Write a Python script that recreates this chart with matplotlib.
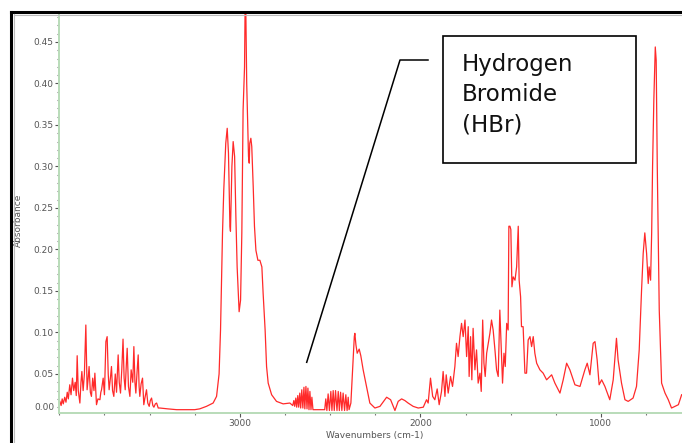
import matplotlib.pyplot as plt
from matplotlib.lines import Line2D
from matplotlib.patches import Rectangle
from matplotlib.ticker import MultipleLocator

# IR spectrum (wavenumber cm-1, absorbance)
wavenumbers = [
    3997, 3990, 3984, 3978, 3970, 3963, 3956, 3950, 3942, 3935, 3927, 3920, 3912, 3906,
    3901, 3895, 3886, 3880, 3875, 3868, 3861, 3853, 3846, 3840, 3835, 3828, 3822, 3815,
    3808, 3803, 3794, 3786, 3775, 3770, 3766, 3757, 3750, 3742, 3735, 3729, 3724, 3717,
    3711, 3705, 3698, 3690, 3683, 3674, 3668, 3661, 3654, 3647, 3641, 3635, 3629, 3624,
    3617, 3609, 3602, 3593, 3587, 3581, 3576, 3570, 3563, 3558, 3554, 3547, 3539, 3532,
    3525, 3517, 3510, 3502, 3496, 3489, 3482, 3476, 3468, 3461, 3452, 3443,
    3400, 3350, 3300, 3250, 3222, 3185, 3148, 3129, 3115, 3107, 3096, 3089, 3078, 3070,
    3063, 3055, 3052, 3044, 3037, 3029, 3022, 3015, 3004, 2996, 2989, 2982, 2974, 2971,
    2967, 2962, 2952, 2948, 2945, 2939, 2934, 2926, 2919, 2911, 2900, 2889, 2878, 2871,
    2860, 2852, 2843, 2824, 2797, 2760, 2723,
    2712, 2707, 2701, 2696, 2690, 2685, 2679, 2674, 2668, 2663, 2657, 2651, 2645, 2640,
    2634, 2628, 2623, 2617, 2612, 2606, 2601, 2595, 2570, 2530,
    2524, 2518, 2511, 2504, 2496, 2490, 2483, 2477, 2470, 2462, 2455, 2449, 2442, 2435,
    2428, 2420, 2413, 2406, 2400, 2395,
    2385, 2374, 2366, 2363, 2357, 2350, 2339, 2330, 2317, 2302, 2280, 2252, 2224, 2187,
    2165, 2141, 2123, 2104, 2086, 2068, 2040, 2012, 1984, 1966, 1957, 1944, 1932, 1920,
    1907, 1896, 1883, 1874, 1864, 1857, 1846, 1833, 1822, 1809, 1800, 1791, 1781, 1772,
    1763, 1753, 1744, 1735, 1730, 1722, 1715, 1708, 1698, 1689, 1680, 1670, 1663, 1655,
    1648, 1641, 1633, 1624, 1615, 1606, 1597, 1587, 1578, 1569, 1560, 1552, 1545, 1537,
    1530, 1522, 1514, 1510, 1504, 1499, 1493, 1486, 1476, 1467, 1458, 1453, 1445, 1440,
    1431, 1421, 1412, 1403, 1393, 1384, 1375, 1366, 1356, 1338, 1320, 1301, 1273, 1255,
    1227, 1209, 1190, 1172, 1144, 1116, 1089, 1076, 1061, 1043, 1033, 1021, 1010, 996,
    978, 951, 932, 914, 905, 886, 867, 849, 822, 803, 788, 775, 766, 757,
    747, 738, 733, 725, 719, 714, 707, 699, 694, 688, 680, 677, 673, 664,
    645, 627, 609, 590, 571, 553,
]
absorbance = [
    0.017, 0.012, 0.020, 0.014, 0.022, 0.016, 0.028, 0.020, 0.037, 0.025, 0.045, 0.030, 0.040, 0.024,
    0.072, 0.030, 0.015, 0.040, 0.053, 0.030, 0.050, 0.109, 0.031, 0.045, 0.059, 0.028, 0.023, 0.045,
    0.030, 0.051, 0.013, 0.020, 0.019, 0.028, 0.031, 0.045, 0.025, 0.089, 0.095, 0.050, 0.031, 0.045,
    0.059, 0.030, 0.023, 0.050, 0.028, 0.073, 0.040, 0.027, 0.055, 0.092, 0.045, 0.031, 0.060, 0.081,
    0.035, 0.023, 0.055, 0.040, 0.083, 0.040, 0.027, 0.050, 0.073, 0.035, 0.023, 0.038, 0.045, 0.013,
    0.022, 0.031, 0.015, 0.011, 0.018, 0.021, 0.012, 0.010, 0.014, 0.015, 0.009, 0.009,
    0.008, 0.007, 0.007, 0.007, 0.008, 0.011, 0.015, 0.023, 0.050, 0.103, 0.220, 0.272, 0.328, 0.346,
    0.316, 0.228, 0.222, 0.300, 0.330, 0.312, 0.240, 0.179, 0.125, 0.139, 0.220, 0.368, 0.420, 0.490,
    0.490, 0.400, 0.312, 0.304, 0.328, 0.334, 0.324, 0.276, 0.228, 0.199, 0.187, 0.187, 0.179, 0.147,
    0.103, 0.059, 0.039, 0.025, 0.017, 0.014, 0.015,
    0.013, 0.012, 0.018, 0.011, 0.021, 0.010, 0.024, 0.010, 0.027, 0.009, 0.031, 0.009, 0.034, 0.008,
    0.035, 0.008, 0.033, 0.007, 0.029, 0.007, 0.022, 0.007, 0.007, 0.007,
    0.020, 0.006, 0.026, 0.006, 0.029, 0.006, 0.030, 0.006, 0.030, 0.006, 0.029, 0.006, 0.028, 0.006,
    0.027, 0.006, 0.025, 0.006, 0.022, 0.007,
    0.015, 0.060, 0.095, 0.099, 0.085, 0.075, 0.080, 0.072, 0.055, 0.039, 0.015, 0.009, 0.011, 0.022,
    0.019, 0.006, 0.017, 0.020, 0.018, 0.015, 0.011, 0.009, 0.010, 0.019, 0.015, 0.045, 0.023, 0.019,
    0.032, 0.013, 0.029, 0.053, 0.023, 0.049, 0.027, 0.047, 0.035, 0.059, 0.087, 0.071, 0.095, 0.111,
    0.095, 0.115, 0.071, 0.107, 0.047, 0.095, 0.043, 0.105, 0.055, 0.079, 0.039, 0.051, 0.029, 0.115,
    0.063, 0.047, 0.075, 0.087, 0.099, 0.115, 0.103, 0.079, 0.055, 0.047, 0.127, 0.079, 0.039, 0.075,
    0.059, 0.111, 0.103, 0.228, 0.228, 0.224, 0.155, 0.167, 0.163, 0.179, 0.228, 0.163, 0.143, 0.107,
    0.107, 0.051, 0.051, 0.091, 0.095, 0.083, 0.095, 0.075, 0.063, 0.055, 0.051, 0.043, 0.049, 0.039,
    0.027, 0.043, 0.063, 0.055, 0.037, 0.035, 0.055, 0.063, 0.049, 0.087, 0.089, 0.067, 0.037, 0.043,
    0.035, 0.019, 0.043, 0.093, 0.067, 0.039, 0.019, 0.017, 0.021, 0.035, 0.079, 0.151, 0.195, 0.220,
    0.195, 0.159, 0.179, 0.163, 0.220, 0.300, 0.380, 0.444, 0.428, 0.300, 0.175, 0.127, 0.099, 0.039,
    0.027, 0.019, 0.009, 0.011, 0.013, 0.025,
]

y_ticks = [0.05, 0.10, 0.15, 0.20, 0.25, 0.30, 0.35, 0.40, 0.45]
x_ticks = [3000, 2000, 1000]

W, H = 682, 443
fig = plt.figure(figsize=(W / 100, H / 100), dpi=100)


def fx(px):
    return px / W


def fy(py):
    return 1 - py / H


ax = fig.add_axes([fx(59.3), fy(413), fx(682 - 59.3), (413 - 14) / H])
ax.plot(wavenumbers, absorbance, color='#ff2a2a', lw=0.9)

ax.set_xlim(4000, 551)
ax.set_ylim(0.003, 0.4837)

axis_green = '#b9dcb9'
for side in ['top', 'right']:
    ax.spines[side].set_visible(False)
for side in ['left', 'bottom']:
    ax.spines[side].set_color(axis_green)
    ax.spines[side].set_linewidth(1.4)

ax.set_yticks(y_ticks)
ax.set_yticklabels(['%.2f' % v for v in y_ticks])
ax.yaxis.set_minor_locator(MultipleLocator(0.01))
ax.set_xticks(x_ticks)
ax.xaxis.set_minor_locator(MultipleLocator(250))
ax.tick_params(which='major', length=3, width=0.8, color='#555555',
               labelsize=6.5, labelcolor='#555555', pad=1.5)
ax.tick_params(which='minor', length=1.5, width=0.8, color='#777777')
# the software draws the zero label slightly above the axis line
ax.text(-0.008, 0.0102, '0.00', transform=ax.get_yaxis_transform(),
        ha='right', va='center', fontsize=6.5, color='#555555')

ax.set_xlabel('Wavenumbers (cm-1)', fontsize=6.5, color='#555555')
ax.xaxis.set_label_coords(0.507, -0.046)
ax.set_ylabel('Absorbance', fontsize=6.5, color='#555555')
ax.yaxis.set_label_coords(-0.059, 0.484)

# outer window frame (cut off at right and bottom)
fig.add_artist(Line2D([fx(11), fx(11)], [fy(12), 0], color='black', lw=2.2))
fig.add_artist(Line2D([fx(11), 1], [fy(12), fy(12)], color='black', lw=2.2))
fig.add_artist(Line2D([fx(13.5), fx(13.5)], [fy(14), 0], color='#bbbbbb', lw=0.8))
fig.add_artist(Line2D([fx(13.5), 1], [fy(14.5), fy(14.5)], color='#bbbbbb', lw=0.8))

# label box with leader line
fig.add_artist(Rectangle((fx(443), fy(163)), fx(636 - 443), (163 - 36) / H,
                         fill=False, edgecolor='black', lw=1.2))
fig.text(fx(462), fy(53), 'Hydrogen\nBromide\n(HBr)', fontsize=16.5, ha='left', va='top',
         linespacing=1.4, color='#111111')
fig.add_artist(Line2D([fx(428), fx(400), fx(306.7)], [fy(60), fy(60), fy(362.3)],
                      color='black', lw=1.1))

plt.savefig('out.png', dpi=100)
